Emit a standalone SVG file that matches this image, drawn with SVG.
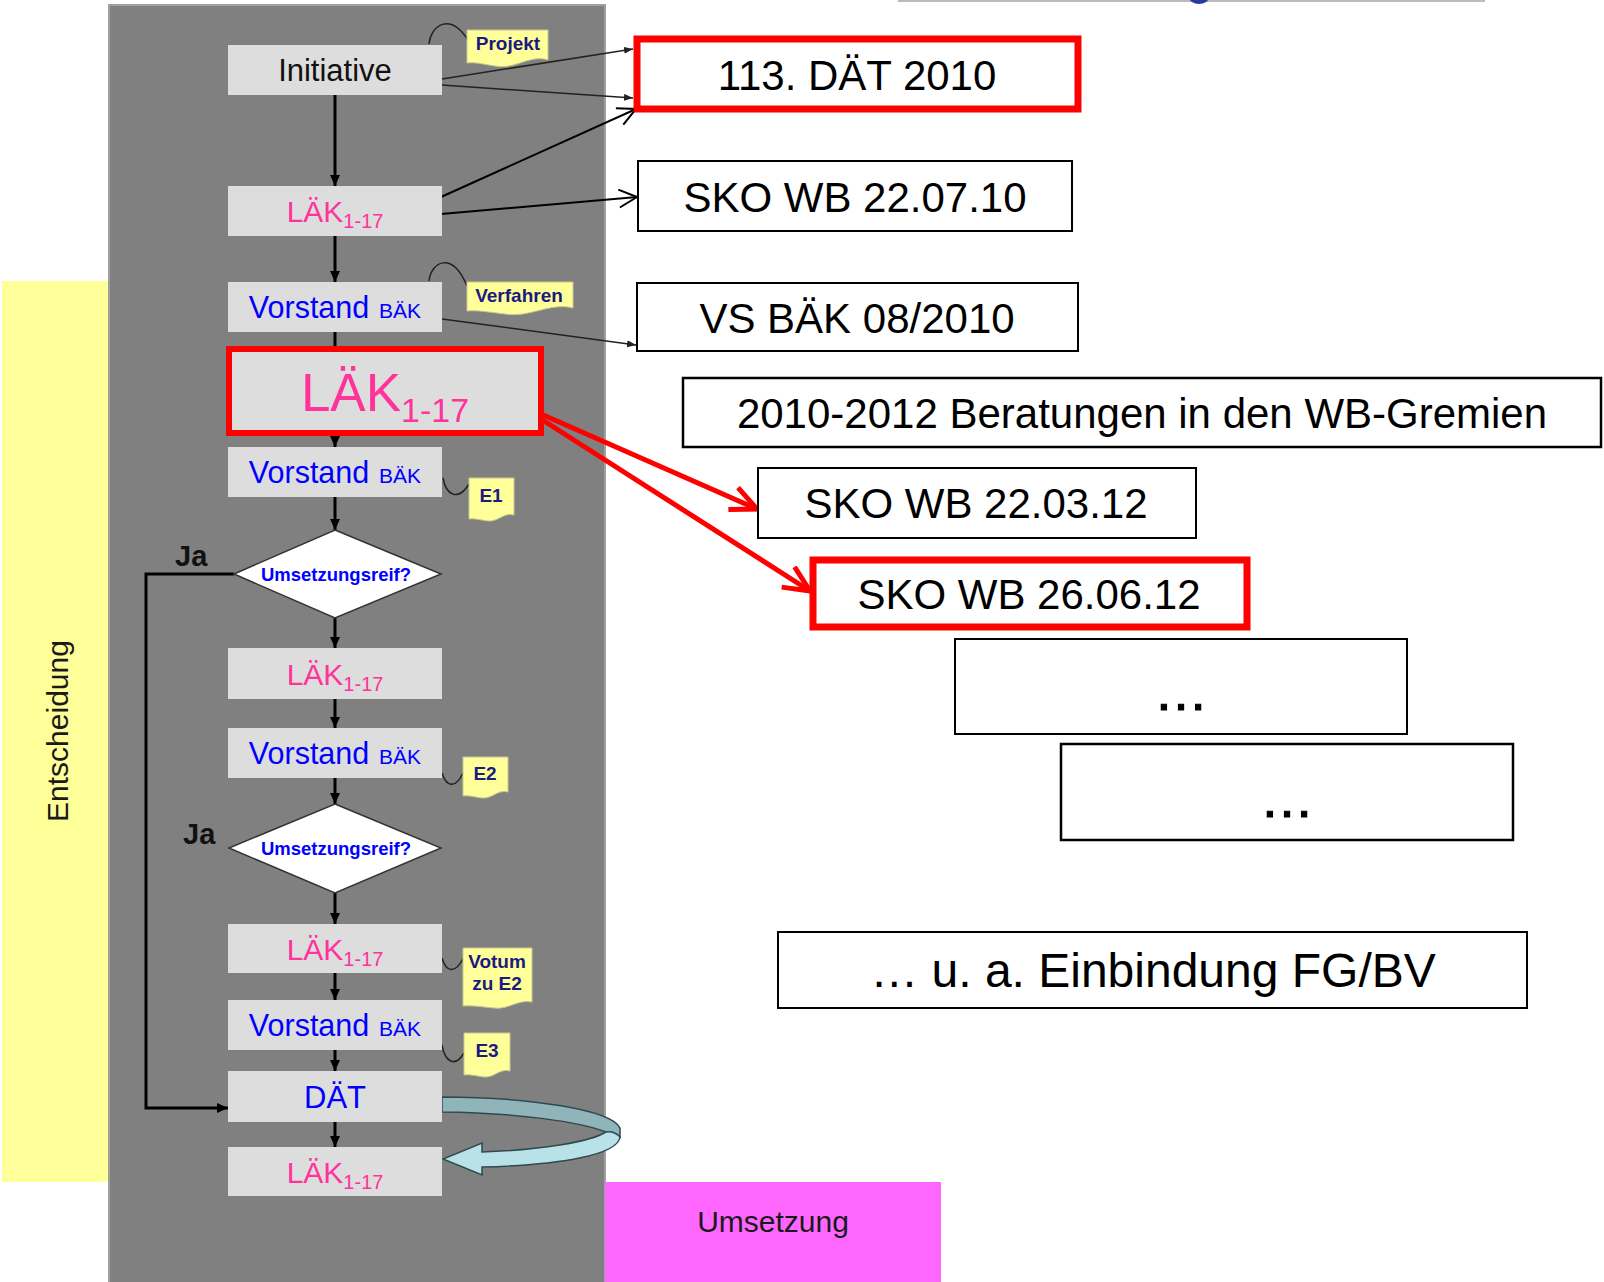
<svg xmlns="http://www.w3.org/2000/svg" width="1604" height="1282" viewBox="0 0 1604 1282">
<style>
text{font-family:"Liberation Sans",Arial,sans-serif}
.box{fill:#dddddd}
.lak{fill:#ff3399;font-size:30px}
.vor{fill:#0000ff;font-size:30.5px}
.bak{font-size:21px}
.note{fill:#ffff99;stroke:#c8c890;stroke-width:1}
.nt{fill:#1a1a80;font-size:19px;font-weight:bold}
.dia{fill:#ffffff;stroke:#333333;stroke-width:1.5}
.dt{fill:#0000ff;font-size:18.5px;font-weight:bold}
.ja{fill:#111111;font-size:29px;font-weight:bold}
.rb{fill:#ffffff;stroke:#000000;stroke-width:2}
.rr{fill:#ffffff;stroke:#ff0000;stroke-width:7}
.rt{fill:#000000;font-size:42px;text-anchor:middle}
.dots{font-size:54px;stroke:#000;stroke-width:1.2px}
.big{font-size:48px}
.vc{stroke:#000000;stroke-width:3;fill:none;marker-end:url(#ah)}
.cl{stroke:#222222;stroke-width:1.5;fill:none}
</style>
<defs>
<marker id="ah" markerUnits="userSpaceOnUse" markerWidth="12" markerHeight="12" refX="11" refY="5" orient="auto"><path d="M0,0 L11,5 L0,10 z" fill="#000"/></marker>
<marker id="sm" markerUnits="userSpaceOnUse" markerWidth="10" markerHeight="8" refX="9" refY="3.5" orient="auto"><path d="M0,0 L9,3.5 L0,7 z" fill="#222"/></marker>
<marker id="ov" markerUnits="userSpaceOnUse" markerWidth="24" markerHeight="22" refX="19" refY="10" orient="auto"><path d="M1,1 L19,10 L1,19" fill="none" stroke="#000" stroke-width="2"/></marker>
<marker id="rv" markerUnits="userSpaceOnUse" markerWidth="34" markerHeight="30" refX="28" refY="14" orient="auto"><path d="M2,2 L28,14 L2,26" fill="none" stroke="#ff0000" stroke-width="5" stroke-linejoin="miter"/></marker>
</defs>

<!-- background panels -->
<rect x="898" y="0" width="587" height="2" fill="#bbbbbb"/>
<ellipse cx="1199" cy="-3" rx="10" ry="7" fill="#2a3a9a"/>
<rect x="2" y="281" width="107" height="901" fill="#ffff99"/>
<rect x="109" y="5" width="496" height="1280" fill="#808080" stroke="#a0a0a0" stroke-width="2"/>
<rect x="605" y="1182" width="336" height="100" fill="#ff66ff"/>
<text x="68" y="731" transform="rotate(-90 68 731)" text-anchor="middle" font-size="30" fill="#1a1a1a">Entscheidung</text>
<text x="773" y="1232" text-anchor="middle" font-size="30" fill="#1a1a1a">Umsetzung</text>

<!-- connectors -->
<g id="connectors">
<path class="vc" d="M335,95 V186"/>
<path class="vc" d="M335,236 V282"/>
<path d="M335,332 V346" stroke="#000" stroke-width="3"/>
<path class="vc" d="M335,436 V447"/>
<path class="vc" d="M335,497 V530"/>
<path class="vc" d="M335,618 V648"/>
<path class="vc" d="M335,699 V728"/>
<path class="vc" d="M335,778 V804"/>
<path class="vc" d="M335,893 V924"/>
<path class="vc" d="M335,973 V1000"/>
<path class="vc" d="M335,1050 V1071"/>
<path class="vc" d="M335,1122 V1147"/>
<path class="vc" d="M234,574 H146 V1108 H228"/>
<path class="cl" d="M442,79 L633,49" marker-end="url(#sm)"/>
<path class="cl" d="M442,85 L633,98" marker-end="url(#sm)"/>
<path d="M441,197 L636,109" stroke="#000" stroke-width="2" fill="none" marker-end="url(#ov)"/>
<path d="M441,214 L637,197" stroke="#000" stroke-width="2" fill="none" marker-end="url(#ov)"/>
<path class="cl" d="M442,319 L636,345" marker-end="url(#sm)"/>
<path d="M541,414 L757,509" stroke="#ff0000" stroke-width="5" fill="none" marker-end="url(#rv)"/>
<path d="M541,419 L810,591" stroke="#ff0000" stroke-width="5" fill="none" marker-end="url(#rv)"/>
<path class="cl" d="M429,44 C431,25 450,12 468,40"/>
<path class="cl" d="M429,281 C431,262 452,250 467,286"/>
<path class="cl" d="M443,478 C446,495 458,502 469,484"/>
<path class="cl" d="M442,773 C446,786 455,790 463,773"/>
<path class="cl" d="M442,958 C446,972 455,975 464,957"/>
<path class="cl" d="M442,1045 C445,1062 455,1068 464,1053"/>
<path d="M442,1097 C530,1097 612,1110 620,1128 L620,1137 C616,1134 612,1131 606,1132 C580,1122 520,1113 442,1112 Z" fill="#8fb4b9" stroke="#2f4a4f" stroke-width="1.5"/>
<path d="M606,1132 C612,1131 618,1134 620,1137 C618,1155 560,1165 482,1167 L482,1175 L443,1159 L482,1143 L482,1152 C540,1150 590,1142 606,1132 Z" fill="#b8e2e7" stroke="#2f4a4f" stroke-width="1.5"/>
</g>

<!-- flow nodes -->
<g id="n-initiative"><rect class="box" x="228" y="45" width="214" height="50"/><text x="335" y="81" text-anchor="middle" font-size="31" fill="#111">Initiative</text></g>
<g id="n-laek1"><rect class="box" x="228" y="186" width="214" height="50"/><text class="lak" x="335" y="222" text-anchor="middle">LÄK<tspan font-size="20" dy="6">1-17</tspan></text></g>
<g id="n-vorstand1"><rect class="box" x="228" y="282" width="214" height="50"/><text class="vor" x="335" y="318" text-anchor="middle">Vorstand<tspan class="bak" dx="4"> BÄK</tspan></text></g>
<g id="n-laek2"><rect x="229" y="349" width="312" height="84" fill="#dddddd" stroke="#ff0000" stroke-width="6"/><text x="385" y="411" text-anchor="middle" font-size="53" fill="#ff3399">LÄK<tspan font-size="34" dy="11">1-17</tspan></text></g>
<g id="n-vorstand2"><rect class="box" x="228" y="447" width="214" height="50"/><text class="vor" x="335" y="483" text-anchor="middle">Vorstand<tspan class="bak" dx="4"> BÄK</tspan></text></g>
<g id="n-dec1"><polygon class="dia" points="335,530 441,574 335,618 234,574"/><text class="dt" x="336" y="581" text-anchor="middle">Umsetzungsreif?</text><text class="ja" x="175" y="566">Ja</text></g>
<g id="n-laek3"><rect class="box" x="228" y="648" width="214" height="51"/><text class="lak" x="335" y="685" text-anchor="middle">LÄK<tspan font-size="20" dy="6">1-17</tspan></text></g>
<g id="n-vorstand3"><rect class="box" x="228" y="728" width="214" height="50"/><text class="vor" x="335" y="764" text-anchor="middle">Vorstand<tspan class="bak" dx="4"> BÄK</tspan></text></g>
<g id="n-dec2"><polygon class="dia" points="335,804 441,848 335,893 229,848"/><text class="dt" x="336" y="855" text-anchor="middle">Umsetzungsreif?</text><text class="ja" x="183" y="844">Ja</text></g>
<g id="n-laek4"><rect class="box" x="228" y="924" width="214" height="49"/><text class="lak" x="335" y="960" text-anchor="middle">LÄK<tspan font-size="20" dy="6">1-17</tspan></text></g>
<g id="n-vorstand4"><rect class="box" x="228" y="1000" width="214" height="50"/><text class="vor" x="335" y="1036" text-anchor="middle">Vorstand<tspan class="bak" dx="4"> BÄK</tspan></text></g>
<g id="n-daet"><rect class="box" x="228" y="1071" width="214" height="51"/><text x="335" y="1108" text-anchor="middle" font-size="31" fill="#0000ff">DÄT</text></g>
<g id="n-laek5"><rect class="box" x="228" y="1147" width="214" height="49"/><text class="lak" x="335" y="1183" text-anchor="middle">LÄK<tspan font-size="20" dy="6">1-17</tspan></text></g>

<!-- notes -->
<g id="note-projekt"><path class="note" d="M467,30 H548 V60 C530,54 515,70 495,66 C482,64 475,62 467,63 Z"/><text class="nt" x="508" y="50" text-anchor="middle">Projekt</text></g>
<g id="note-verfahren"><path class="note" d="M467,282 H573 V308 C550,302 530,318 505,314 C488,312 477,310 467,311 Z"/><text class="nt" x="519" y="302" text-anchor="middle">Verfahren</text></g>
<g id="note-e1"><path class="note" d="M469,478 H514 V515 C504,512 498,522 488,521 C480,520 474,518 469,519 Z"/><text class="nt" x="491" y="502" text-anchor="middle">E1</text></g>
<g id="note-e2"><path class="note" d="M463,757 H508 V792 C498,789 492,799 482,798 C474,797 468,795 463,796 Z"/><text class="nt" x="485" y="780" text-anchor="middle">E2</text></g>
<g id="note-votum"><path class="note" d="M463,948 H532 V1002 C518,999 508,1010 494,1008 C482,1007 472,1005 463,1006 Z"/><text class="nt" x="497" y="968" text-anchor="middle">Votum</text><text class="nt" x="497" y="990" text-anchor="middle">zu E2</text></g>
<g id="note-e3"><path class="note" d="M464,1033 H510 V1071 C500,1068 494,1078 484,1077 C476,1076 470,1074 464,1075 Z"/><text class="nt" x="487" y="1057" text-anchor="middle">E3</text></g>

<!-- right side milestones -->
<g id="m-daet2010"><rect class="rr" x="637" y="39" width="441" height="70"/><text class="rt" x="857" y="90">113. DÄT 2010</text></g>
<g id="m-sko100722"><rect class="rb" x="638" y="161" width="434" height="70"/><text class="rt" x="855" y="212">SKO WB 22.07.10</text></g>
<g id="m-vs"><rect class="rb" x="637" y="283" width="441" height="68"/><text class="rt" x="857" y="333">VS BÄK 08/2010</text></g>
<g id="m-beratungen"><rect class="rb" x="683" y="378" width="918" height="69" style="stroke-width:2.5px"/><text class="rt" x="1142" y="428">2010-2012 Beratungen in den WB-Gremien</text></g>
<g id="m-sko120322"><rect class="rb" x="758" y="468" width="438" height="70"/><text class="rt" x="976" y="518">SKO WB 22.03.12</text></g>
<g id="m-sko120626"><rect class="rr" x="813" y="560" width="434" height="67"/><text class="rt" x="1029" y="609">SKO WB 26.06.12</text></g>
<g id="m-dots1"><rect class="rb" x="955" y="639" width="452" height="95"/><text class="rt dots" x="1181" y="710">…</text></g>
<g id="m-dots2"><rect class="rb" x="1061" y="744" width="452" height="96" style="stroke-width:2.5px"/><text class="rt dots" x="1287" y="817">…</text></g>
<g id="m-fgbv"><rect class="rb" x="778" y="932" width="749" height="76"/><text class="rt big" x="1153" y="987">… u. a. Einbindung FG/BV</text></g>
</svg>
